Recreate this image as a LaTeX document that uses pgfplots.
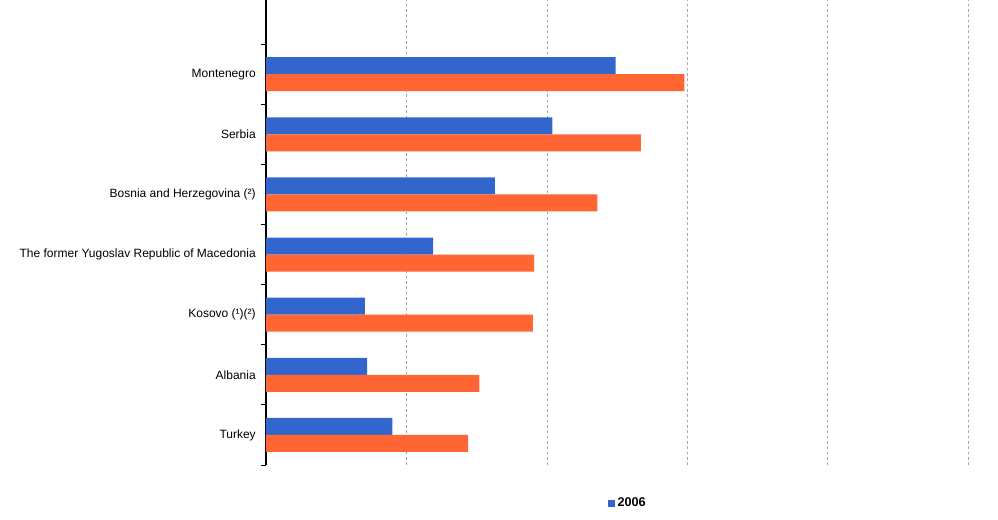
\documentclass[border=0pt]{standalone}
\usepackage{pgfplots}
\pgfplotsset{compat=1.18}
\usepackage{fontspec}
\setmainfont{Liberation Sans}
\definecolor{bblue}{HTML}{3366CC}
\definecolor{borange}{HTML}{FF6633}
\begin{document}
\begin{tikzpicture}
\path[use as bounding box] (-199.5pt,-41.25pt) rectangle (549pt,348.75pt);
\begin{axis}[
  scale only axis, width=526.5pt, height=348.75pt,
  xbar, bar width=0.283,
  xmin=0, xmax=5, ymin=-0.5, ymax=7.233,
  axis x line*=bottom, axis y line*=left,
  x axis line style={draw=none},
  y axis line style={black, line width=0.8pt, -},
  xtick={1,...,5}, xticklabels={},
  xmajorgrids,
  grid style={gray!70, dash pattern=on 2pt off 2pt, line width=0.4pt},
  ytick={0,...,6},
  yticklabels={Turkey, Albania, Kosovo (¹)(²), The former Yugoslav Republic of Macedonia, Bosnia and Herzegovina (²), Serbia, Montenegro},
  minor ytick={-0.5,0.5,...,6.5},
  major tick length=0pt,
  minor tick length=3.75pt,
  tick align=outside,
  minor y tick style={black, line width=0.6pt},
  yticklabel style={font=\fontsize{9}{10}\selectfont, inner sep=0pt, xshift=-7.5pt},
  legend style={at={(0.516,-0.082)}, anchor=center, draw=none, fill=none,
    font=\fontsize{9.5}{10}\selectfont\bfseries},
  legend image code/.code={\fill[bblue] (0pt,-2.6pt) rectangle (5.2pt,2.6pt);},
]
\addplot[fill=bblue, draw=none, bar shift=0.1415] coordinates {
  (0.90,0) (0.72,1) (0.705,2) (1.19,3) (1.63,4) (2.04,5) (2.49,6)};
\addlegendentry{2006}
\addplot[fill=borange, draw=none, bar shift=-0.1415, forget plot] coordinates {
  (1.44,0) (1.52,1) (1.90,2) (1.91,3) (2.36,4) (2.67,5) (2.98,6)};
\end{axis}
\end{tikzpicture}
\end{document}
